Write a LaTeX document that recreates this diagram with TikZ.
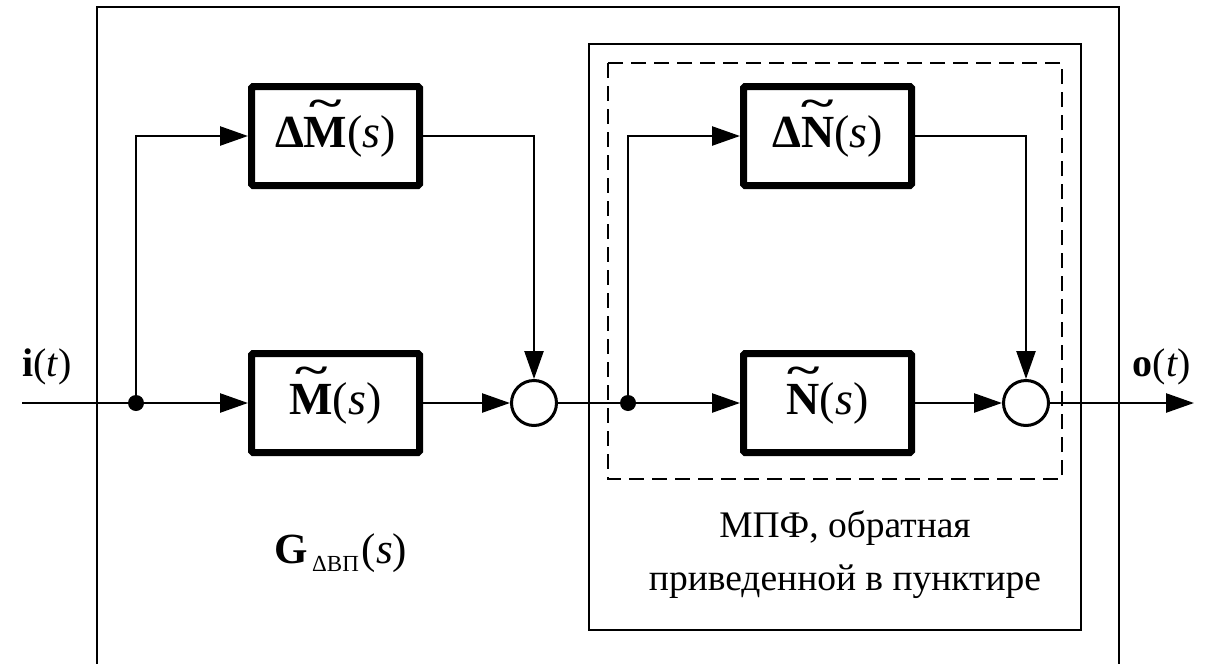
\documentclass[tikz,border=0pt]{standalone}
\usepackage{fontspec}
\setmainfont{Liberation Serif}
\usetikzlibrary{arrows.meta,calc}
\newcommand\tld[1]{\leavevmode\setbox0=\hbox{#1}\rlap{\hbox to\wd0{\hss\raisebox{0.66em}[0pt][0pt]{\scalebox{1.35}[0.85]{\textasciitilde}}\hss}}\box0}
\begin{document}
\begin{tikzpicture}[x=1pt,y=-1pt,
  blk/.style={draw, line width=7pt, rounded corners=1.5pt, minimum width=168pt, minimum height=99pt, inner sep=0pt, font=\fontsize{46}{50}\selectfont},
  sumj/.style={draw, circle, line width=3pt, minimum size=45pt, inner sep=0pt},
  dotn/.style={circle, fill, minimum size=16pt, inner sep=0pt},
  conn/.style={line width=2.5pt},
  arr/.style={conn, -{Triangle[length=28pt,width=19pt]}},
  lbl/.style={inner sep=0pt, font=\fontsize{40}{44}\selectfont},
  rus/.style={inner sep=0pt, anchor=base, font=\fontsize{37.5}{42}\selectfont}]
\useasboundingbox (0,0) rectangle (1205,664);
% frames
\draw[line width=2.5pt] (97,668) -- (97,7) -- (1119,7) -- (1119,668);
\draw[line width=2pt] (589,44) rectangle (1081,630);
\draw[line width=2pt, dash pattern=on 15pt off 8pt] (608,63) rectangle (1062,479);
% blocks
\node[blk] (dM) at (335.5,136) {\textbf{Δ\tld{M}}(\textit{s})};
\node[blk] (M) at (335.5,403) {\textbf{\tld{M}}(\textit{s})};
\node[blk] (dN) at (827.5,136) {\textbf{Δ\tld{N}}(\textit{s})};
\node[blk] (N) at (827.5,403) {\textbf{\tld{N}}(\textit{s})};
\node[sumj] (s1) at (534,403) {};
\node[sumj] (s2) at (1026,403) {};
\node[dotn] (b1) at (136,403) {};
\node[dotn] (b2) at (628,403) {};
\coordinate (in) at (22,403);
\coordinate (out) at (1194,403);
% connectors
\draw[conn] (in) -- (b1.center);
\draw[arr] (b1.center) -- (M);
\draw[arr] (b1.center) |- (dM.west);
\draw[arr] (M) -- (s1);
\draw[arr] (dM.east) -| (s1.north);
\draw[conn] (s1) -- (b2.center);
\draw[arr] (b2.center) -- (N);
\draw[arr] (b2.center) |- (dN.west);
\draw[arr] (N) -- (s2);
\draw[arr] (dN.east) -| (s2.north);
\draw[arr] (s2) -- (out);
% labels
\node[lbl] (il) at (47,367) {\textbf{i}(\textit{t})};
\node[lbl] (ol) at (1162,367) {\textbf{o}(\textit{t})};
\node[lbl, anchor=base, font=\fontsize{43}{46}\selectfont] (gl) at (341,563) {\textbf{G}\kern4pt\raisebox{-8pt}{\fontsize{23}{25}\selectfont ΔВП}\kern3pt(\textit{s})};
\node[rus] (r1) at (845,537) {МПФ, обратная};
\node[rus] (r2) at (845,590) {приведенной в пунктире};
\end{tikzpicture}
\end{document}
